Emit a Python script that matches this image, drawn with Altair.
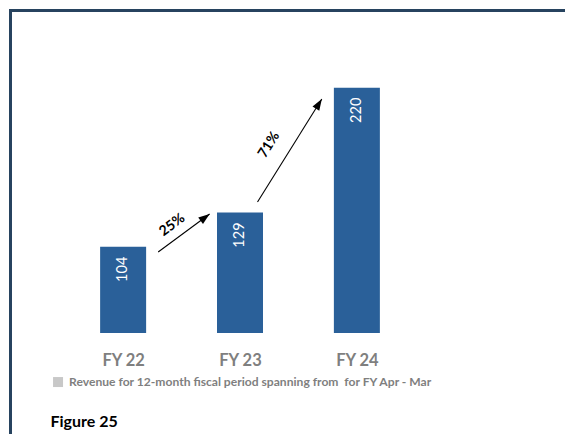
import math
import altair as alt
import pandas as pd

# ---- data ----
categories = ["FY 22", "FY 23", "FY 24"]
revenue = [104, 129, 220]
series_name = "Revenue for 12-month fiscal period spanning from\u00a0 for FY Apr - Mar"
figure_label = "Figure 25"

growth_labels = ["25%", "71%"]
growth_label_x = [0.42, 1.25]
growth_label_y = [119.8, 178.2]
arrow_x_start = [0.30, 1.15]
arrow_y_start = [100.1, 136.6]
arrow_x_end = [0.74, 1.70]
arrow_y_end = [127.8, 211.7]

# ---- layout ----
Y_MIN, Y_MAX = 41, 230
X_MIN, X_MAX = -0.6, 2.6
W, H = 374, 259
PAD = {"left": 45, "top": 66, "right": 138, "bottom": 101}
FONT = "Lato"
BLUE = "#2A6099"
GRAY_TXT = "#7f7f7f"
FRAME = "#27435f"

kx = W / (X_MAX - X_MIN)
ky = H / (Y_MAX - Y_MIN)

idx = list(range(len(categories)))
bars_df = pd.DataFrame({"idx": idx, "category": categories, "value": revenue,
                        "series": [series_name] * len(categories)})

head_angle = []
text_angle = []
for xs, ys, xe, ye in zip(arrow_x_start, arrow_y_start, arrow_x_end, arrow_y_end):
    dxp = (xe - xs) * kx
    dyp = (ye - ys) * ky
    head_angle.append(math.degrees(math.atan2(dxp, dyp)) % 360)
    text_angle.append((360 - math.degrees(math.atan2(dyp, dxp))) % 360)

arrows_df = pd.DataFrame({"x0": arrow_x_start, "y0": arrow_y_start,
                          "x1": arrow_x_end, "y1": arrow_y_end,
                          "ang": head_angle})
pct_df = pd.DataFrame({"x": growth_label_x, "y": growth_label_y,
                       "label": growth_labels, "ang": text_angle})

xscale = alt.Scale(domain=[X_MIN, X_MAX], nice=False, zero=False, padding=0)
yscale = alt.Scale(domain=[Y_MIN, Y_MAX], nice=False, zero=False, padding=0)

label_expr = "[" + ",".join("'" + c + "'" for c in categories) + "][datum.value]"

# frame lines stay inside the drawing area (no overflow)
one = pd.DataFrame({"a": [0]})
frame_top = alt.Chart(one).mark_rule(color=FRAME, strokeWidth=3).encode(
    x=alt.value(-44), x2=alt.value(W + PAD["right"]), y=alt.value(-63.5)
)
frame_left = alt.Chart(one).mark_rule(color=FRAME, strokeWidth=3).encode(
    x=alt.value(-42.5), y=alt.value(-65), y2=alt.value(H + PAD["bottom"])
)

bars = alt.Chart(bars_df).mark_bar(size=46, color=BLUE).encode(
    x=alt.X("idx:Q", scale=xscale,
            axis=alt.Axis(values=idx, labelExpr=label_expr, ticks=False, domain=False,
                          grid=False, labelFont=FONT, labelFontWeight="bold",
                          labelFontSize=16.5, labelColor=GRAY_TXT, labelPadding=19,
                          title=figure_label, titleX=-3, titleY=93, titleAlign="left",
                          titleBaseline="alphabetic", titleFont=FONT, titleFontSize=16,
                          titleFontWeight="bold", titleColor="black", titleAngle=0)),
    y=alt.Y("value:Q", scale=yscale, axis=None),
    y2=alt.datum(Y_MIN),
)

# legend only (no visible marks)
legend_layer = alt.Chart(bars_df).transform_filter("false").mark_square(filled=True).encode(
    x=alt.X("idx:Q", scale=xscale),
    y=alt.Y("value:Q", scale=yscale, axis=None),
    color=alt.Color("series:N",
                    scale=alt.Scale(domain=[series_name], range=["#c8c8c8"]),
                    legend=alt.Legend(title=None, orient="none", legendX=-1, legendY=302,
                                      padding=0, symbolType="square", symbolSize=100,
                                      symbolStrokeWidth=0, symbolOpacity=1, labelFont=FONT,
                                      labelFontWeight="bold", labelFontSize=12.1,
                                      labelColor=GRAY_TXT, labelOffset=5, labelLimit=0)),
)

values = alt.Chart(bars_df).mark_text(
    angle=270, align="right", baseline="middle", dx=-10, color="white",
    font=FONT, fontSize=14.5
).encode(
    x=alt.X("idx:Q", scale=xscale),
    y=alt.Y("value:Q", scale=yscale, axis=None),
    text=alt.Text("value:Q"),
)

rules = alt.Chart(arrows_df).mark_rule(color="black", strokeWidth=1.1).encode(
    x=alt.X("x0:Q", scale=xscale),
    y=alt.Y("y0:Q", scale=yscale, axis=None),
    x2="x1:Q", y2="y1:Q",
)

heads = alt.Chart(arrows_df).mark_point(
    shape="M0,0L-0.5,1.4L0.5,1.4Z", filled=True, size=256, color="black",
    opacity=1, strokeWidth=0
).encode(
    x=alt.X("x1:Q", scale=xscale),
    y=alt.Y("y1:Q", scale=yscale, axis=None),
    angle=alt.Angle("ang:Q", scale=None),
)

pct = alt.Chart(pct_df).mark_text(
    font=FONT, fontWeight="bold", fontSize=14, color="black",
    align="center", baseline="middle"
).encode(
    x=alt.X("x:Q", scale=xscale),
    y=alt.Y("y:Q", scale=yscale, axis=None),
    text="label:N",
    angle=alt.Angle("ang:Q", scale=None),
)

chart = alt.layer(frame_top, frame_left, bars, legend_layer, values, rules, heads, pct).properties(
    width=W, height=H,
    autosize=alt.AutoSizeParams(type="none"),
    padding=PAD,
    background="white",
).configure_view(stroke=None)

chart.save("out.html", embed_options={"renderer": "svg", "actions": False})
